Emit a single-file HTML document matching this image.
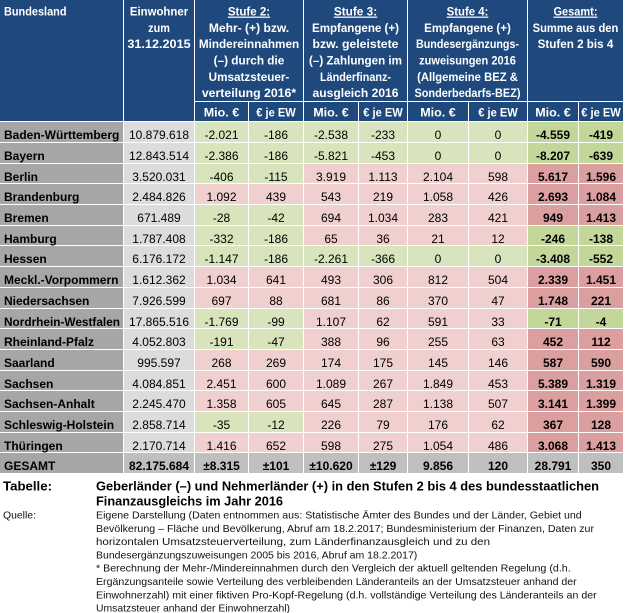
<!DOCTYPE html>
<html><head><meta charset="utf-8"><style>
html,body{margin:0;padding:0;background:#fff;}
svg{display:block;}
</style></head><body>
<svg width="625" height="613" viewBox="0 0 625 613" xmlns="http://www.w3.org/2000/svg" font-family="'Liberation Sans', Arial, sans-serif">
<rect width="625" height="613" fill="#fff"/>
<!-- header backgrounds -->
<g fill="#1f497d">
<rect x="0" y="0" width="123" height="121"/>
<rect x="124" y="0" width="70" height="121"/>
<rect x="195" y="0" width="108" height="101"/>
<rect x="304" y="0" width="103" height="101"/>
<rect x="408" y="0" width="119" height="101"/>
<rect x="528" y="0" width="95" height="101"/>
<rect x="195" y="102" width="108" height="19"/>
<rect x="304" y="102" width="103" height="19"/>
<rect x="408" y="102" width="119" height="19"/>
<rect x="528" y="102" width="95" height="19"/>
</g>
<!-- data row backgrounds -->
<g>
<!-- r0 BW -->
<rect x="0" y="122" width="123" height="20" fill="#a6a6a6"/><rect x="124" y="122" width="70" height="20" fill="#dcdcdc"/>
<rect x="195" y="122" width="108" height="20" fill="#d8e4bc"/><rect x="304" y="122" width="103" height="20" fill="#d8e4bc"/><rect x="408" y="122" width="119" height="20" fill="#d8e4bc"/><rect x="528" y="122" width="95" height="20" fill="#c4d79b"/>
<!-- r1 Bayern -->
<rect x="0" y="143" width="123" height="20" fill="#a6a6a6"/><rect x="124" y="143" width="70" height="20" fill="#dcdcdc"/>
<rect x="195" y="143" width="108" height="20" fill="#d8e4bc"/><rect x="304" y="143" width="103" height="20" fill="#d8e4bc"/><rect x="408" y="143" width="119" height="20" fill="#d8e4bc"/><rect x="528" y="143" width="95" height="20" fill="#c4d79b"/>
<!-- r2 Berlin -->
<rect x="0" y="164" width="123" height="19" fill="#a6a6a6"/><rect x="124" y="164" width="70" height="19" fill="#dcdcdc"/>
<rect x="195" y="164" width="108" height="19" fill="#d8e4bc"/><rect x="304" y="164" width="103" height="19" fill="#f0cfcf"/><rect x="408" y="164" width="119" height="19" fill="#f0cfcf"/><rect x="528" y="164" width="95" height="19" fill="#dc9f9f"/>
<!-- r3 Brandenburg -->
<rect x="0" y="184" width="123" height="20" fill="#a6a6a6"/><rect x="124" y="184" width="70" height="20" fill="#dcdcdc"/>
<rect x="195" y="184" width="108" height="20" fill="#f0cfcf"/><rect x="304" y="184" width="103" height="20" fill="#f0cfcf"/><rect x="408" y="184" width="119" height="20" fill="#f0cfcf"/><rect x="528" y="184" width="95" height="20" fill="#dc9f9f"/>
<!-- r4 Bremen -->
<rect x="0" y="205" width="123" height="20" fill="#a6a6a6"/><rect x="124" y="205" width="70" height="20" fill="#dcdcdc"/>
<rect x="195" y="205" width="108" height="20" fill="#d8e4bc"/><rect x="304" y="205" width="103" height="20" fill="#f0cfcf"/><rect x="408" y="205" width="119" height="20" fill="#f0cfcf"/><rect x="528" y="205" width="95" height="20" fill="#dc9f9f"/>
<!-- r5 Hamburg -->
<rect x="0" y="226" width="123" height="19" fill="#a6a6a6"/><rect x="124" y="226" width="70" height="19" fill="#dcdcdc"/>
<rect x="195" y="226" width="108" height="19" fill="#d8e4bc"/><rect x="304" y="226" width="103" height="19" fill="#f0cfcf"/><rect x="408" y="226" width="119" height="19" fill="#f0cfcf"/><rect x="528" y="226" width="95" height="19" fill="#c4d79b"/>
<!-- r6 Hessen -->
<rect x="0" y="246" width="123" height="20" fill="#a6a6a6"/><rect x="124" y="246" width="70" height="20" fill="#dcdcdc"/>
<rect x="195" y="246" width="108" height="20" fill="#d8e4bc"/><rect x="304" y="246" width="103" height="20" fill="#d8e4bc"/><rect x="408" y="246" width="119" height="20" fill="#d8e4bc"/><rect x="528" y="246" width="95" height="20" fill="#c4d79b"/>
<!-- r7 MV -->
<rect x="0" y="267" width="123" height="20" fill="#a6a6a6"/><rect x="124" y="267" width="70" height="20" fill="#dcdcdc"/>
<rect x="195" y="267" width="108" height="20" fill="#f0cfcf"/><rect x="304" y="267" width="103" height="20" fill="#f0cfcf"/><rect x="408" y="267" width="119" height="20" fill="#f0cfcf"/><rect x="528" y="267" width="95" height="20" fill="#dc9f9f"/>
<!-- r8 Nds -->
<rect x="0" y="288" width="123" height="20" fill="#a6a6a6"/><rect x="124" y="288" width="70" height="20" fill="#dcdcdc"/>
<rect x="195" y="288" width="108" height="20" fill="#f0cfcf"/><rect x="304" y="288" width="103" height="20" fill="#f0cfcf"/><rect x="408" y="288" width="119" height="20" fill="#f0cfcf"/><rect x="528" y="288" width="95" height="20" fill="#dc9f9f"/>
<!-- r9 NRW -->
<rect x="0" y="309" width="123" height="19" fill="#a6a6a6"/><rect x="124" y="309" width="70" height="19" fill="#dcdcdc"/>
<rect x="195" y="309" width="108" height="19" fill="#d8e4bc"/><rect x="304" y="309" width="103" height="19" fill="#f0cfcf"/><rect x="408" y="309" width="119" height="19" fill="#f0cfcf"/><rect x="528" y="309" width="95" height="19" fill="#c4d79b"/>
<!-- r10 RP -->
<rect x="0" y="329" width="123" height="20" fill="#a6a6a6"/><rect x="124" y="329" width="70" height="20" fill="#dcdcdc"/>
<rect x="195" y="329" width="108" height="20" fill="#d8e4bc"/><rect x="304" y="329" width="103" height="20" fill="#f0cfcf"/><rect x="408" y="329" width="119" height="20" fill="#f0cfcf"/><rect x="528" y="329" width="95" height="20" fill="#dc9f9f"/>
<!-- r11 Saarland -->
<rect x="0" y="350" width="123" height="20" fill="#a6a6a6"/><rect x="124" y="350" width="70" height="20" fill="#dcdcdc"/>
<rect x="195" y="350" width="108" height="20" fill="#f0cfcf"/><rect x="304" y="350" width="103" height="20" fill="#f0cfcf"/><rect x="408" y="350" width="119" height="20" fill="#f0cfcf"/><rect x="528" y="350" width="95" height="20" fill="#dc9f9f"/>
<!-- r12 Sachsen -->
<rect x="0" y="371" width="123" height="19" fill="#a6a6a6"/><rect x="124" y="371" width="70" height="19" fill="#dcdcdc"/>
<rect x="195" y="371" width="108" height="19" fill="#f0cfcf"/><rect x="304" y="371" width="103" height="19" fill="#f0cfcf"/><rect x="408" y="371" width="119" height="19" fill="#f0cfcf"/><rect x="528" y="371" width="95" height="19" fill="#dc9f9f"/>
<!-- r13 Sachsen-Anhalt -->
<rect x="0" y="391" width="123" height="20" fill="#a6a6a6"/><rect x="124" y="391" width="70" height="20" fill="#dcdcdc"/>
<rect x="195" y="391" width="108" height="20" fill="#f0cfcf"/><rect x="304" y="391" width="103" height="20" fill="#f0cfcf"/><rect x="408" y="391" width="119" height="20" fill="#f0cfcf"/><rect x="528" y="391" width="95" height="20" fill="#dc9f9f"/>
<!-- r14 SH -->
<rect x="0" y="412" width="123" height="20" fill="#a6a6a6"/><rect x="124" y="412" width="70" height="20" fill="#dcdcdc"/>
<rect x="195" y="412" width="108" height="20" fill="#d8e4bc"/><rect x="304" y="412" width="103" height="20" fill="#f0cfcf"/><rect x="408" y="412" width="119" height="20" fill="#f0cfcf"/><rect x="528" y="412" width="95" height="20" fill="#dc9f9f"/>
<!-- r15 Thueringen -->
<rect x="0" y="433" width="123" height="19" fill="#a6a6a6"/><rect x="124" y="433" width="70" height="19" fill="#dcdcdc"/>
<rect x="195" y="433" width="108" height="19" fill="#f0cfcf"/><rect x="304" y="433" width="103" height="19" fill="#f0cfcf"/><rect x="408" y="433" width="119" height="19" fill="#f0cfcf"/><rect x="528" y="433" width="95" height="19" fill="#dc9f9f"/>
<!-- r16 GESAMT -->
<rect x="0" y="453" width="123" height="20" fill="#a6a6a6"/><rect x="124" y="453" width="70" height="20" fill="#bfbfbf"/>
<rect x="195" y="453" width="108" height="20" fill="#bfbfbf"/><rect x="304" y="453" width="103" height="20" fill="#bfbfbf"/><rect x="408" y="453" width="119" height="20" fill="#bfbfbf"/><rect x="528" y="453" width="95" height="20" fill="#bfbfbf"/>
</g>
<!-- inner vertical white lines -->
<g fill="#fff">
<rect x="248" y="102" width="1" height="371"/>
<rect x="358" y="102" width="1" height="371"/>
<rect x="468" y="102" width="1" height="371"/>
<rect x="578" y="102" width="1" height="371"/>
</g>

<!-- header text -->
<g fill="#fff" font-weight="bold" font-size="12" text-anchor="middle">
<text x="4" y="15.6" text-anchor="start" textLength="62.5" lengthAdjust="spacingAndGlyphs">Bundesland</text>
<text x="159" y="15.6" textLength="58.3" lengthAdjust="spacingAndGlyphs">Einwohner</text>
<text x="159" y="31.9" textLength="21.7" lengthAdjust="spacingAndGlyphs">zum</text>
<text x="159" y="48.2" textLength="63.3" lengthAdjust="spacingAndGlyphs">31.12.2015</text>

<text x="249" y="15.6" textLength="42.3" lengthAdjust="spacingAndGlyphs" text-decoration="underline">Stufe 2:</text>
<text x="249" y="31.9" textLength="80.3" lengthAdjust="spacingAndGlyphs">Mehr- (+) bzw.</text>
<text x="249" y="48.2" textLength="100.3" lengthAdjust="spacingAndGlyphs">Mindereinnahmen</text>
<text x="249" y="64.5" textLength="70.7" lengthAdjust="spacingAndGlyphs">(–) durch die</text>
<text x="249" y="80.8" textLength="80.7" lengthAdjust="spacingAndGlyphs">Umsatzsteuer-</text>
<text x="249" y="97.1" textLength="94.3" lengthAdjust="spacingAndGlyphs">verteilung 2016*</text>

<text x="355.5" y="15.6" textLength="43.3" lengthAdjust="spacingAndGlyphs" text-decoration="underline">Stufe 3:</text>
<text x="355.5" y="31.9" textLength="87" lengthAdjust="spacingAndGlyphs">Empfangene (+)</text>
<text x="355.5" y="48.2" textLength="86" lengthAdjust="spacingAndGlyphs">bzw. geleistete</text>
<text x="355.5" y="64.5" textLength="93" lengthAdjust="spacingAndGlyphs">(–) Zahlungen im</text>
<text x="355.5" y="80.8" textLength="71" lengthAdjust="spacingAndGlyphs">Länderfinanz-</text>
<text x="355.5" y="97.1" textLength="86" lengthAdjust="spacingAndGlyphs">ausgleich 2016</text>

<text x="467.5" y="15.6" textLength="41.7" lengthAdjust="spacingAndGlyphs" text-decoration="underline">Stufe 4:</text>
<text x="467.5" y="31.9" textLength="86.7" lengthAdjust="spacingAndGlyphs">Empfangene (+)</text>
<text x="467.5" y="48.2" textLength="103" lengthAdjust="spacingAndGlyphs">Bundesergänzungs-</text>
<text x="467.5" y="64.5" textLength="96.7" lengthAdjust="spacingAndGlyphs">zuweisungen 2016</text>
<text x="467.5" y="80.8" textLength="100.7" lengthAdjust="spacingAndGlyphs">(Allgemeine BEZ &amp;</text>
<text x="467.5" y="97.1" textLength="106" lengthAdjust="spacingAndGlyphs">Sonderbedarfs-BEZ)</text>

<text x="575.5" y="15.6" textLength="44" lengthAdjust="spacingAndGlyphs" text-decoration="underline">Gesamt:</text>
<text x="575.5" y="31.9" textLength="85.7" lengthAdjust="spacingAndGlyphs">Summe aus den</text>
<text x="575.5" y="48.2" textLength="75.7" lengthAdjust="spacingAndGlyphs">Stufen 2 bis 4</text>

<text x="221.5" y="116.5" textLength="35.5" lengthAdjust="spacingAndGlyphs">Mio. €</text>
<text x="276" y="116.5" textLength="39.5" lengthAdjust="spacingAndGlyphs">€ je EW</text>
<text x="331" y="116.5" textLength="35.5" lengthAdjust="spacingAndGlyphs">Mio. €</text>
<text x="383" y="116.5" textLength="39.5" lengthAdjust="spacingAndGlyphs">€ je EW</text>
<text x="438" y="116.5" textLength="35.5" lengthAdjust="spacingAndGlyphs">Mio. €</text>
<text x="498" y="116.5" textLength="39.5" lengthAdjust="spacingAndGlyphs">€ je EW</text>
<text x="553" y="116.5" textLength="35.5" lengthAdjust="spacingAndGlyphs">Mio. €</text>
<text x="601" y="116.5" textLength="39.5" lengthAdjust="spacingAndGlyphs">€ je EW</text>
</g>

<!-- data text -->
<g fill="#000" font-size="12" text-anchor="middle">
<g transform="translate(0,138.8)"><text x="4" text-anchor="start" font-weight="bold">Baden-Württemberg</text><text x="159">10.879.618</text><text x="221.5">-2.021</text><text x="276">-186</text><text x="331">-2.538</text><text x="383">-233</text><text x="438">0</text><text x="498">0</text><text x="553" font-weight="bold">-4.559</text><text x="601" font-weight="bold">-419</text></g>
<g transform="translate(0,159.8)"><text x="4" text-anchor="start" font-weight="bold">Bayern</text><text x="159">12.843.514</text><text x="221.5">-2.386</text><text x="276">-186</text><text x="331">-5.821</text><text x="383">-453</text><text x="438">0</text><text x="498">0</text><text x="553" font-weight="bold">-8.207</text><text x="601" font-weight="bold">-639</text></g>
<g transform="translate(0,180.8)"><text x="4" text-anchor="start" font-weight="bold">Berlin</text><text x="159">3.520.031</text><text x="221.5">-406</text><text x="276">-115</text><text x="331">3.919</text><text x="383">1.113</text><text x="438">2.104</text><text x="498">598</text><text x="553" font-weight="bold">5.617</text><text x="601" font-weight="bold">1.596</text></g>
<g transform="translate(0,200.8)"><text x="4" text-anchor="start" font-weight="bold">Brandenburg</text><text x="159">2.484.826</text><text x="221.5">1.092</text><text x="276">439</text><text x="331">543</text><text x="383">219</text><text x="438">1.058</text><text x="498">426</text><text x="553" font-weight="bold">2.693</text><text x="601" font-weight="bold">1.084</text></g>
<g transform="translate(0,221.8)"><text x="4" text-anchor="start" font-weight="bold">Bremen</text><text x="159">671.489</text><text x="221.5">-28</text><text x="276">-42</text><text x="331">694</text><text x="383">1.034</text><text x="438">283</text><text x="498">421</text><text x="553" font-weight="bold">949</text><text x="601" font-weight="bold">1.413</text></g>
<g transform="translate(0,242.8)"><text x="4" text-anchor="start" font-weight="bold">Hamburg</text><text x="159">1.787.408</text><text x="221.5">-332</text><text x="276">-186</text><text x="331">65</text><text x="383">36</text><text x="438">21</text><text x="498">12</text><text x="553" font-weight="bold">-246</text><text x="601" font-weight="bold">-138</text></g>
<g transform="translate(0,262.8)"><text x="4" text-anchor="start" font-weight="bold">Hessen</text><text x="159">6.176.172</text><text x="221.5">-1.147</text><text x="276">-186</text><text x="331">-2.261</text><text x="383">-366</text><text x="438">0</text><text x="498">0</text><text x="553" font-weight="bold">-3.408</text><text x="601" font-weight="bold">-552</text></g>
<g transform="translate(0,283.8)"><text x="4" text-anchor="start" font-weight="bold">Meckl.-Vorpommern</text><text x="159">1.612.362</text><text x="221.5">1.034</text><text x="276">641</text><text x="331">493</text><text x="383">306</text><text x="438">812</text><text x="498">504</text><text x="553" font-weight="bold">2.339</text><text x="601" font-weight="bold">1.451</text></g>
<g transform="translate(0,304.8)"><text x="4" text-anchor="start" font-weight="bold">Niedersachsen</text><text x="159">7.926.599</text><text x="221.5">697</text><text x="276">88</text><text x="331">681</text><text x="383">86</text><text x="438">370</text><text x="498">47</text><text x="553" font-weight="bold">1.748</text><text x="601" font-weight="bold">221</text></g>
<g transform="translate(0,325.8)"><text x="4" text-anchor="start" font-weight="bold" textLength="116" lengthAdjust="spacingAndGlyphs">Nordrhein-Westfalen</text><text x="159">17.865.516</text><text x="221.5">-1.769</text><text x="276">-99</text><text x="331">1.107</text><text x="383">62</text><text x="438">591</text><text x="498">33</text><text x="553" font-weight="bold">-71</text><text x="601" font-weight="bold">-4</text></g>
<g transform="translate(0,345.8)"><text x="4" text-anchor="start" font-weight="bold">Rheinland-Pfalz</text><text x="159">4.052.803</text><text x="221.5">-191</text><text x="276">-47</text><text x="331">388</text><text x="383">96</text><text x="438">255</text><text x="498">63</text><text x="553" font-weight="bold">452</text><text x="601" font-weight="bold">112</text></g>
<g transform="translate(0,366.8)"><text x="4" text-anchor="start" font-weight="bold">Saarland</text><text x="159">995.597</text><text x="221.5">268</text><text x="276">269</text><text x="331">174</text><text x="383">175</text><text x="438">145</text><text x="498">146</text><text x="553" font-weight="bold">587</text><text x="601" font-weight="bold">590</text></g>
<g transform="translate(0,387.8)"><text x="4" text-anchor="start" font-weight="bold">Sachsen</text><text x="159">4.084.851</text><text x="221.5">2.451</text><text x="276">600</text><text x="331">1.089</text><text x="383">267</text><text x="438">1.849</text><text x="498">453</text><text x="553" font-weight="bold">5.389</text><text x="601" font-weight="bold">1.319</text></g>
<g transform="translate(0,407.8)"><text x="4" text-anchor="start" font-weight="bold">Sachsen-Anhalt</text><text x="159">2.245.470</text><text x="221.5">1.358</text><text x="276">605</text><text x="331">645</text><text x="383">287</text><text x="438">1.138</text><text x="498">507</text><text x="553" font-weight="bold">3.141</text><text x="601" font-weight="bold">1.399</text></g>
<g transform="translate(0,428.8)"><text x="4" text-anchor="start" font-weight="bold">Schleswig-Holstein</text><text x="159">2.858.714</text><text x="221.5">-35</text><text x="276">-12</text><text x="331">226</text><text x="383">79</text><text x="438">176</text><text x="498">62</text><text x="553" font-weight="bold">367</text><text x="601" font-weight="bold">128</text></g>
<g transform="translate(0,449.8)"><text x="4" text-anchor="start" font-weight="bold">Thüringen</text><text x="159">2.170.714</text><text x="221.5">1.416</text><text x="276">652</text><text x="331">598</text><text x="383">275</text><text x="438">1.054</text><text x="498">486</text><text x="553" font-weight="bold">3.068</text><text x="601" font-weight="bold">1.413</text></g>
<g transform="translate(0,469.8)" font-weight="bold"><text x="4" text-anchor="start">GESAMT</text><text x="159">82.175.684</text><text x="221.5">±8.315</text><text x="276">±101</text><text x="331">±10.620</text><text x="383">±129</text><text x="438">9.856</text><text x="498">120</text><text x="553">28.791</text><text x="601">350</text></g>
</g>

<!-- caption -->
<g fill="#000" font-weight="bold" font-size="12.5">
<text x="3" y="490.5" textLength="49" lengthAdjust="spacingAndGlyphs">Tabelle:</text>
<text x="96" y="490.5" textLength="503" lengthAdjust="spacingAndGlyphs">Geberländer (–) und Nehmerländer (+) in den Stufen 2 bis 4 des bundesstaatlichen</text>
<text x="96" y="505.5" textLength="187" lengthAdjust="spacingAndGlyphs">Finanzausgleichs im Jahr 2016</text>
</g>
<g fill="#111" font-size="10.5">
<text x="3" y="518.5" textLength="33" lengthAdjust="spacingAndGlyphs">Quelle:</text>
<text x="96" y="518.5" textLength="485.7" lengthAdjust="spacingAndGlyphs">Eigene Darstellung (Daten entnommen aus: Statistische Ämter des Bundes und der Länder, Gebiet und</text>
<text x="96" y="531.8" textLength="498" lengthAdjust="spacingAndGlyphs">Bevölkerung – Fläche und Bevölkerung, Abruf am 18.2.2017;  Bundesministerium der Finanzen, Daten zur</text>
<text x="96" y="545.1" textLength="394" lengthAdjust="spacingAndGlyphs">horizontalen Umsatzsteuerverteilung, zum Länderfinanzausgleich und zu den</text>
<text x="96" y="558.4" textLength="321.3" lengthAdjust="spacingAndGlyphs">Bundesergänzungszuweisungen 2005 bis 2016, Abruf am 18.2.2017)</text>
<text x="96" y="571.7" textLength="474.7" lengthAdjust="spacingAndGlyphs">* Berechnung der Mehr-/Mindereinnahmen durch den Vergleich der aktuell geltenden Regelung (d.h.</text>
<text x="96" y="585" textLength="480.7" lengthAdjust="spacingAndGlyphs">Ergänzungsanteile sowie Verteilung des verbleibenden Länderanteils an der Umsatzsteuer anhand der</text>
<text x="96" y="598.3" textLength="500.7" lengthAdjust="spacingAndGlyphs">Einwohnerzahl) mit einer fiktiven Pro-Kopf-Regelung (d.h.  vollständige Verteilung des Länderanteils an der</text>
<text x="96" y="611.3" textLength="194" lengthAdjust="spacingAndGlyphs">Umsatzsteuer anhand der Einwohnerzahl)</text>
</g>
</svg>
</body></html>
